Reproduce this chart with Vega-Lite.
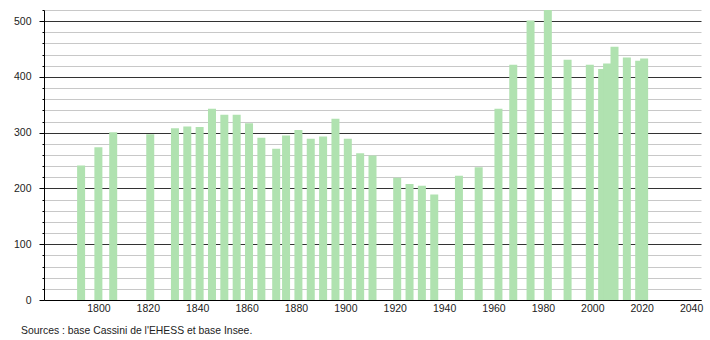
{
  "$schema": "https://vega.github.io/schema/vega-lite/v6.json",
  "width": 657,
  "height": 290,
  "autosize": {"type": "none"},
  "padding": {"left": 44, "top": 10, "right": 9, "bottom": 40},
  "background": "white",
  "config": {
    "view": {"stroke": null},
    "font": "Liberation Sans"
  },
  "title": {
    "text": "Sources : base Cassini de l'EHESS et base Insee.",
    "orient": "bottom",
    "anchor": "start",
    "frame": "group",
    "dx": -23,
    "offset": 12,
    "fontSize": 10.4,
    "fontWeight": "normal",
    "color": "#222",
    "font": "Liberation Sans"
  },
  "data": {
    "values": [
      {"year": 1793, "pop": 241},
      {"year": 1800, "pop": 274},
      {"year": 1806, "pop": 301},
      {"year": 1821, "pop": 297},
      {"year": 1831, "pop": 308},
      {"year": 1836, "pop": 311},
      {"year": 1841, "pop": 310},
      {"year": 1846, "pop": 343},
      {"year": 1851, "pop": 332},
      {"year": 1856, "pop": 332},
      {"year": 1861, "pop": 317},
      {"year": 1866, "pop": 291},
      {"year": 1872, "pop": 271},
      {"year": 1876, "pop": 295},
      {"year": 1881, "pop": 305},
      {"year": 1886, "pop": 289},
      {"year": 1891, "pop": 293},
      {"year": 1896, "pop": 325},
      {"year": 1901, "pop": 289},
      {"year": 1906, "pop": 263},
      {"year": 1911, "pop": 259},
      {"year": 1921, "pop": 219},
      {"year": 1926, "pop": 208},
      {"year": 1931, "pop": 205},
      {"year": 1936, "pop": 189},
      {"year": 1946, "pop": 223},
      {"year": 1954, "pop": 238},
      {"year": 1962, "pop": 343},
      {"year": 1968, "pop": 422},
      {"year": 1975, "pop": 501},
      {"year": 1982, "pop": 520},
      {"year": 1990, "pop": 431},
      {"year": 1999, "pop": 422},
      {"year": 2004, "pop": 414},
      {"year": 2006, "pop": 424},
      {"year": 2009, "pop": 454},
      {"year": 2014, "pop": 435},
      {"year": 2019, "pop": 429},
      {"year": 2021, "pop": 433}
    ]
  },
  "mark": {"type": "bar", "size": 8, "color": "#b0e2b0"},
  "encoding": {
    "x": {
      "field": "year",
      "type": "quantitative",
      "scale": {"domain": [1780, 2042], "nice": false, "zero": false},
      "axis": {
        "title": null,
        "values": [1800, 1820, 1840, 1860, 1880, 1900, 1920, 1940, 1960, 1980, 2000, 2020, 2040],
        "format": "d",
        "ticks": false,
        "grid": false,
        "domainColor": "#000",
        "domainWidth": 1,
        "labelFontSize": 10.5,
        "labelColor": "#222",
        "labelPadding": 3,
        "labelFlush": false
      }
    },
    "y": {
      "field": "pop",
      "type": "quantitative",
      "scale": {"domain": [0, 520], "nice": false},
      "axis": {
        "title": null,
        "values": [0, 20, 40, 60, 80, 100, 120, 140, 160, 180, 200, 220, 240, 260, 280, 300, 320, 340, 360, 380, 400, 420, 440, 460, 480, 500, 520],
        "labelExpr": "datum.value % 100 === 0 ? datum.label : ''",
        "grid": true,
        "gridColor": {"condition": {"test": "datum.value % 100 === 0", "value": "#333"}, "value": "#c8c8c8"},
        "gridWidth": 1,
        "tickColor": "#000",
        "tickSize": {"condition": {"test": "datum.value % 100 === 0", "value": 5}, "value": 2},
        "domainColor": "#000",
        "labelFontSize": 10.5,
        "labelColor": "#222",
        "labelPadding": 8
      }
    }
  }
}
